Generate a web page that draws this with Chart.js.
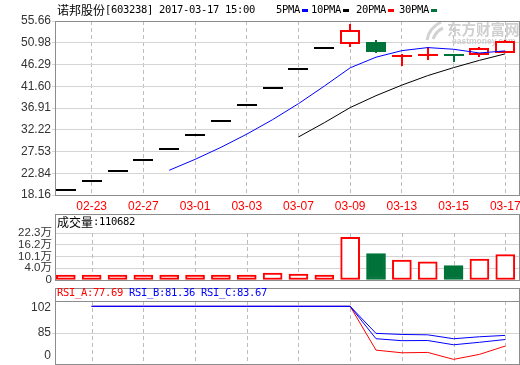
<!DOCTYPE html>
<html>
<head>
<meta charset="utf-8">
<script src="https://cdn.jsdelivr.net/npm/chart.js@4.4.0/dist/chart.umd.min.js"></script>
<style>
  body { margin: 0; background: #fff; }
  #wrap { position: relative; width: 520px; height: 365px; overflow: hidden; }
  canvas { position: absolute; left: 0; }
</style>
</head>
<body>
<div id="wrap">
  <canvas id="priceChart" width="520" height="212" style="top:0"></canvas>
  <canvas id="volChart" width="520" height="72" style="top:212px"></canvas>
  <canvas id="rsiChart" width="520" height="79" style="top:286px"></canvas>
</div>
<script>
// 日付・ローソク足
const stockTitle = '诺邦股份[603238] 2017-03-17 15:00';
const dates = ['02-22','02-23','02-24','02-27','02-28','03-01','03-02','03-03','03-06','03-07','03-08','03-09','03-10','03-13','03-14','03-15','03-16','03-17'];
const opens  = [19.24,21.16,23.28,25.61,28.17,30.99,34.09,37.50,41.25,45.38,49.92,50.80,51.05,47.90,48.15,48.50,48.30,48.85];
const closes = [19.24,21.16,23.28,25.61,28.17,30.99,34.09,37.50,41.25,45.38,49.92,53.80,48.97,48.32,48.65,48.15,49.75,51.25];
const highs  = [19.24,21.16,23.28,25.61,28.17,30.99,34.09,37.50,41.25,45.38,49.92,54.91,51.50,48.55,50.05,48.50,50.05,51.60];
const lows   = [19.24,21.16,23.28,25.61,28.17,30.99,34.09,37.50,41.25,45.38,49.92,50.05,48.75,46.05,47.35,46.80,47.90,48.85];

// 移動平均
const maNames = ['5PMA','10PMA','20PMA','30PMA'];
const ma5  = [null,null,null,null,23.49,25.84,28.43,31.27,34.40,37.84,41.63,45.57,47.86,49.27,49.93,49.57,48.77,49.22];
const ma10 = [null,null,null,null,null,null,null,null,null,30.67,33.74,37.00,39.57,41.84,43.89,45.61,47.18,48.58];

// 成交量（万）
const volumes = [0.5,0.5,0.5,0.5,0.5,0.5,0.5,0.5,1.5,1.0,0.4,20.1,11.6,8.3,7.3,5.4,8.8,11.0682];

// RSI
const rsiA = [null,100,100,100,100,100,100,100,100,100,100,100,75.4,73.9,74.1,70.2,73.0,77.69];
const rsiB = [null,100,100,100,100,100,100,100,100,100,100,100,81.8,80.7,80.8,78.4,79.8,81.36];
const rsiC = [null,100,100,100,100,100,100,100,100,100,100,100,84.8,84.2,84.0,81.8,82.9,83.67];

// 目盛り
const dateTickIdx = [1,3,5,7,9,11,13,15,17];
const priceTicks = [18.16,22.84,27.53,32.22,36.91,41.60,46.29,50.98,55.66];
const volTickValues = [-2.1,4.0,10.1,16.2,22.3];
const volTickLabels = ['0','4.0万','10.1万','16.2万','22.3万'];
const rsiTickValues = [99.1,85,72.4];
const rsiTickLabels = ['102','85','0'];

const RED = '#ff0000', GREEN = '#00733a', BLUE = '#0000ff';
const BORDER = '#8c8c8c', GRID = '#d4d4d4', VGRID = '#bdbdbd';
const LABEL_FONT = { family: "'Liberation Sans', 'Noto Sans CJK SC', sans-serif", size: 12 };

function pts(arr) {
    return arr.map((v, i) => ({ x: i, y: v }));
}

// 等幅風テキスト（半角6px・全角12px）
function drawMono(ctx, text, x, y, color) {
    ctx.fillStyle = color;
    ctx.textBaseline = 'middle';
    ctx.textAlign = 'left';
    for (const ch of text) {
        const wide = ch.charCodeAt(0) > 0x2e80;
        ctx.font = wide ? "12px 'Noto Sans CJK SC'" : "10.5px 'DejaVu Sans Mono'";
        ctx.fillText(ch, x, y);
        x += wide ? 12 : 6;
    }
    return x;
}

function xScale(showLabels) {
    return {
        type: 'linear', min: -0.418, max: 17.57, bounds: 'data', offset: false,
        afterBuildTicks: s => { s.ticks = dateTickIdx.map(v => ({ value: v })); },
        afterFit: s => { s.height = showLabels ? 17 : 0; s.paddingLeft = 0; s.paddingRight = 0; },
        grid: { display: showLabels, color: VGRID, drawTicks: false, offset: false },
        border: { display: false, dash: [4, 3] },
        ticks: {
            display: showLabels, color: RED, font: LABEL_FONT, padding: 4,
            maxRotation: 0, autoSkip: false, callback: v => dates[v]
        }
    };
}

function yScale(min, max, values, labelFn, gridColor, tickLen, fontSize) {
    return {
        type: 'linear', min: min, max: max, bounds: 'data',
        afterBuildTicks: s => { s.ticks = values.map(v => ({ value: v })); },
        afterFit: s => { s.width = 55; s.paddingTop = 0; s.paddingBottom = 0; },
        grid: { color: gridColor, tickColor: tickLen ? gridColor : 'rgba(0,0,0,0)', drawTicks: !!tickLen, tickLength: tickLen || 0 },
        border: { display: false },
        ticks: {
            color: '#333', font: Object.assign({}, LABEL_FONT, { size: fontSize || 12 }),
            padding: tickLen ? 1 : 3, autoSkip: false, callback: labelFn
        }
    };
}

// 枠線・縦点線・見出し
const panelPlugin = {
    id: 'panel',
    beforeDatasetsDraw(chart, args, opts) {
        if (!opts.vgrid) return;
        const { ctx, chartArea: a, scales: { x } } = chart;
        ctx.save();
        ctx.strokeStyle = VGRID;
        ctx.lineWidth = 1;
        ctx.setLineDash([4, 3]);
        dateTickIdx.forEach(i => {
            const px = Math.round(x.getPixelForValue(i)) + 0.5;
            ctx.beginPath();
            ctx.moveTo(px, a.top);
            ctx.lineTo(px, a.bottom);
            ctx.stroke();
        });
        ctx.restore();
    },
    afterDraw(chart, args, opts) {
        const { ctx, chartArea: a } = chart;
        const x0 = Math.round(a.left) + 0.5, x1 = Math.round(a.right) - 0.5;
        const yTop = (opts.boxTop != null ? opts.boxTop : Math.round(a.top)) + 0.5;
        const y1 = Math.round(a.bottom) + 0.5;
        ctx.save();
        ctx.strokeStyle = BORDER;
        ctx.lineWidth = 1;
        ctx.strokeRect(x0, yTop, x1 - x0, y1 - yTop);
        if (opts.divider) {
            ctx.beginPath();
            ctx.moveTo(x0, Math.round(a.top) + 0.5);
            ctx.lineTo(x1, Math.round(a.top) + 0.5);
            ctx.stroke();
        }
        if (opts.header) opts.header(ctx);
        ctx.restore();
    }
};

// ローソク足
const candlePlugin = {
    id: 'candles',
    beforeDatasetsDraw(chart) {
        const { ctx, scales: { x, y } } = chart;
        ctx.save();
        // ウォーターマーク
        ctx.fillStyle = '#cfcfcf';
        ctx.textBaseline = 'middle';
        ctx.font = "bold 14.5px 'Noto Sans CJK SC'";
        ctx.fillText('东方财富网', 447, 29);
        ctx.font = "bold 8.5px 'Liberation Sans'";
        ctx.fillText('eastmoney.com', 452, 42);
        ctx.strokeStyle = '#d2d2d2';
        ctx.lineWidth = 3;
        ctx.beginPath(); ctx.moveTo(427, 40); ctx.quadraticCurveTo(429, 28, 441, 22); ctx.stroke();
        ctx.beginPath(); ctx.moveTo(433, 39); ctx.quadraticCurveTo(436, 31, 443, 28); ctx.stroke();

        for (let i = 0; i < dates.length; i++) {
            const cx = Math.round(x.getPixelForValue(i));
            const o = y.getPixelForValue(opens[i]), c = y.getPixelForValue(closes[i]);
            const h = Math.round(y.getPixelForValue(highs[i])), l = Math.round(y.getPixelForValue(lows[i]));
            if (highs[i] === lows[i]) {
                // 一字板
                ctx.fillStyle = '#000';
                ctx.fillRect(cx - 10, Math.round(c) - 1, 20, 2);
                continue;
            }
            const up = closes[i] >= opens[i];
            ctx.fillStyle = up ? RED : GREEN;
            ctx.fillRect(cx - 1, h, 2, l - h);
            const top = Math.round(Math.min(o, c));
            const bh = Math.max(Math.round(Math.max(o, c)) - top, 2);
            ctx.fillRect(cx - 10, top, 20, bh);
            if (up && bh > 4) {
                ctx.fillStyle = '#fff';
                ctx.fillRect(cx - 8, top + 2, 16, bh - 4);
            }
        }
        ctx.restore();
    }
};

const maColors = [BLUE, '#000', RED, GREEN];

new Chart(document.getElementById('priceChart'), {
    type: 'line',
    data: {
        datasets: [
            { data: pts(ma5), borderColor: BLUE, borderWidth: 1, pointRadius: 0 },
            { data: pts(ma10), borderColor: '#000', borderWidth: 1, pointRadius: 0 }
        ]
    },
    options: {
        responsive: false, animation: false, events: [],
        layout: { padding: { top: 21, left: 0, right: 0, bottom: 0 }, autoPadding: false },
        scales: {
            x: xScale(true),
            y: yScale(18.16, 55.66, priceTicks, v => v.toFixed(2), GRID, 3)
        },
        plugins: {
            legend: { display: false }, tooltip: { enabled: false },
            panel: {
                header: ctx => {
                    drawMono(ctx, stockTitle, 57, 10, '#000');
                    const tx = [276, 311, 356, 399];
                    maNames.forEach((n, k) => {
                        const end = drawMono(ctx, n, tx[k], 10, '#000');
                        ctx.fillStyle = maColors[k];
                        ctx.fillRect(end + 2, 9, 6, 3);
                    });
                }
            }
        }
    },
    plugins: [candlePlugin, panelPlugin]
});

new Chart(document.getElementById('volChart'), {
    type: 'bar',
    data: {
        datasets: [{
            data: pts(volumes), base: volTickValues[0], barThickness: 19,
            borderWidth: 2, borderSkipped: false,
            backgroundColor: c => closes[c.dataIndex] >= opens[c.dataIndex] ? '#fff' : GREEN,
            borderColor: c => closes[c.dataIndex] >= opens[c.dataIndex] ? RED : GREEN
        }]
    },
    options: {
        responsive: false, animation: false, events: [],
        layout: { padding: { top: 21, left: 0, right: 0, bottom: 4 }, autoPadding: false },
        scales: {
            x: xScale(false),
            y: yScale(volTickValues[0], volTickValues[volTickValues.length - 1], volTickValues, (v, i) => volTickLabels[i], GRID, 0, 11.5)
        },
        plugins: {
            legend: { display: false }, tooltip: { enabled: false },
            panel: {
                boxTop: 2, vgrid: true,
                header: ctx => drawMono(ctx, '成交量:' + Math.round(volumes[volumes.length - 1] * 10000), 57, 10.5, '#000')
            }
        }
    },
    plugins: [panelPlugin]
});

const last = dates.length - 1;
new Chart(document.getElementById('rsiChart'), {
    type: 'line',
    data: {
        datasets: [
            { data: pts(rsiC), borderColor: BLUE, borderWidth: 1, pointRadius: 0 },
            { data: pts(rsiB), borderColor: BLUE, borderWidth: 1, pointRadius: 0 },
            { data: pts(rsiA), borderColor: RED, borderWidth: 1, pointRadius: 0 }
        ]
    },
    options: {
        responsive: false, animation: false, events: [],
        layout: { padding: { top: 15, left: 0, right: 0, bottom: 1 }, autoPadding: false },
        scales: {
            x: xScale(false),
            y: (() => {
                const s = yScale(67.6, 103.0, rsiTickValues, (v, i) => rsiTickLabels[i], GRID, 3);
                s.grid.color = c => (c.tick && c.tick.value === 85) ? GRID : 'rgba(0,0,0,0)';
                s.grid.tickColor = c => (c.tick && c.tick.value === 85) ? GRID : 'rgba(0,0,0,0)';
                return s;
            })()
        },
        plugins: {
            legend: { display: false }, tooltip: { enabled: false },
            panel: {
                boxTop: 2, divider: true, vgrid: true,
                header: ctx => {
                    let x = drawMono(ctx, 'RSI_A:' + rsiA[last].toFixed(2), 57, 7.5, RED);
                    x = drawMono(ctx, ' RSI_B:' + rsiB[last].toFixed(2), x, 7.5, BLUE);
                    drawMono(ctx, ' RSI_C:' + rsiC[last].toFixed(2), x, 7.5, BLUE);
                }
            }
        }
    },
    plugins: [panelPlugin]
});
</script>
</body>
</html>
